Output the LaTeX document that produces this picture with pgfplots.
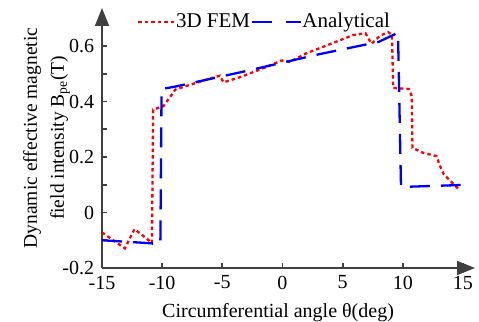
\documentclass[border=0pt]{standalone}
\usepackage{fontspec}
\setmainfont{Liberation Serif}
\usepackage{pgfplots}
\pgfplotsset{compat=1.18}
\usetikzlibrary{arrows.meta}
\definecolor{axgray}{RGB}{64,64,64}
\pgfplotsset{
  legred/.style={legend image code/.code={\draw[##1] (0bp,0bp) -- (36bp,0bp);}},
  legblue/.style={legend image code/.code={\draw[##1, dash pattern=on 20bp off 14bp] (0bp,0bp) -- (49bp,0bp);}},
}
\begin{document}
\fontsize{20bp}{24bp}\selectfont
\begin{tikzpicture}
\useasboundingbox (0,0) rectangle (479bp,322bp);
\begin{axis}[
  at={(102bp,54bp)}, anchor=south west,
  scale only axis, width=373bp, height=260bp,
  xmin=-15, xmax=16, ymin=-0.2, ymax=0.737,
  axis lines=left,
  axis line style={draw=axgray, line width=1.8bp, -{Triangle[length=18bp,width=14bp]}},
  xtick={-15,-10,-5,0,5,10,15},
  xticklabels={-15,-10,-5,0,5,10,15},
  ytick={-0.2,0,0.2,0.4,0.6},
  yticklabels={-0.2,0,0.2,0.4,0.6},
  minor ytick={-0.1,0.1,0.3,0.5},
  tick align=inside,
  major tick length=5bp, minor tick length=5bp,
  tick style={draw=axgray, line width=1.8bp},
  every tick/.style={draw=axgray, line width=1.8bp},
  ticklabel style={font=\fontsize{20bp}{24bp}\selectfont, text=black},
  xticklabel style={yshift=-1bp},
  yticklabel style={xshift=-1bp},
  xlabel={Circumferential angle θ(deg)},
  xlabel style={at={(axis description cs:0.472,0)}, anchor=base, yshift=-49bp, font=\fontsize{20bp}{24bp}\selectfont},
  ylabel={Dynamic effective magnetic\\field intensity B\textsubscript{pe}(T)},
  ylabel style={at={(axis description cs:-0.149,0.5)}, anchor=center, align=center, font=\fontsize{19.5bp}{27bp}\selectfont},
  legend style={at={(axis description cs:0.094,0.946)}, anchor=west, draw=none, fill=none, inner sep=0pt,
    legend columns=2, font=\fontsize{21bp}{24bp}\selectfont,
    nodes={inner sep=0.5bp}},
  clip=false,
]
\addplot[red, line width=2.3bp, dash pattern=on 3.5bp off 3bp, legred] coordinates {
(-15,-0.072) (-13.1,-0.129) (-12.3,-0.06) (-11.4,-0.09) (-10.85,-0.11)
(-10.75,0.371) (-9.9,0.383) (-8.9,0.443) (-7.7,0.46) (-6.3,0.479) (-5.2,0.493)
(-4.9,0.469) (-3.5,0.488) (-1.6,0.52) (-0.07,0.548) (0.6,0.543) (2.0,0.574)
(4.5,0.616) (5.9,0.64) (6.9,0.646) (7.4,0.608) (8.1,0.637) (8.8,0.65) (9.1,0.64)
(9.2,0.449) (10.5,0.445) (10.75,0.42) (10.8,0.233) (11.7,0.215) (12.8,0.203)
(13.1,0.167) (13.4,0.138) (14.1,0.108) (14.7,0.081)
};
\addlegendentry{3D FEM}
\addplot[blue, line width=2.3bp, dash pattern=on 20bp off 11bp, legblue] coordinates {
(-15,-0.1) (-10.15,-0.113) (-10.05,0.445) (-9,0.453) (-3,0.51) (3,0.57) (8,0.615)
(9.6,0.648) (9.85,0.092) (14.8,0.099)
};
\addlegendentry{Analytical}
\end{axis}
\end{tikzpicture}
\end{document}
